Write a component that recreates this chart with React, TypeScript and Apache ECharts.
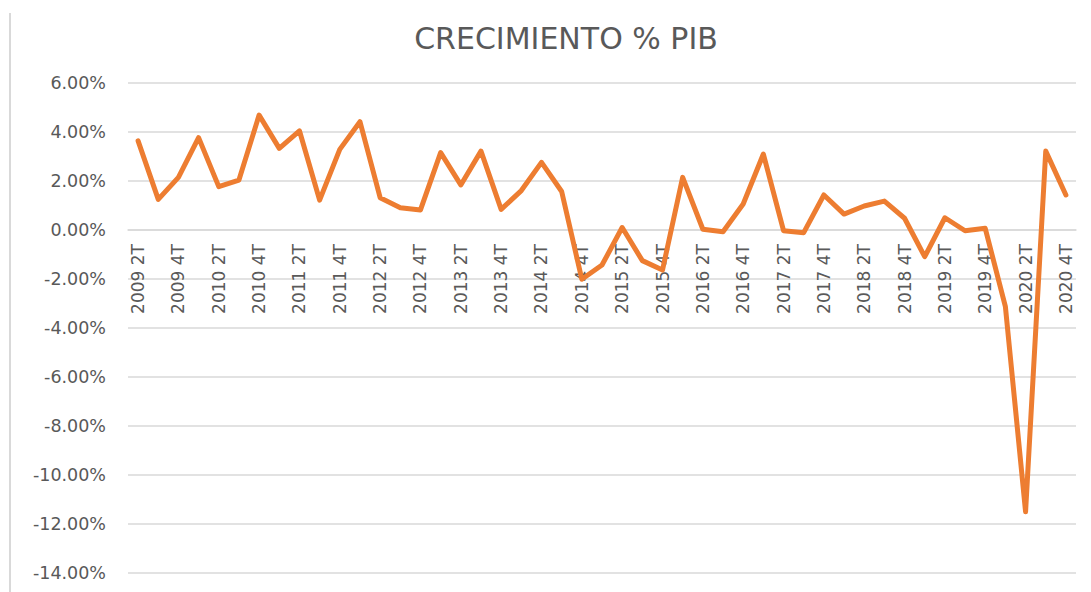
import React, { useEffect, useRef } from "react";
import * as echarts from "echarts";

const quarters: string[] = [
  "2009 2T", "2009 3T", "2009 4T",
  "2010 1T", "2010 2T", "2010 3T", "2010 4T",
  "2011 1T", "2011 2T", "2011 3T", "2011 4T",
  "2012 1T", "2012 2T", "2012 3T", "2012 4T",
  "2013 1T", "2013 2T", "2013 3T", "2013 4T",
  "2014 1T", "2014 2T", "2014 3T", "2014 4T",
  "2015 1T", "2015 2T", "2015 3T", "2015 4T",
  "2016 1T", "2016 2T", "2016 3T", "2016 4T",
  "2017 1T", "2017 2T", "2017 3T", "2017 4T",
  "2018 1T", "2018 2T", "2018 3T", "2018 4T",
  "2019 1T", "2019 2T", "2019 3T", "2019 4T",
  "2020 1T", "2020 2T", "2020 3T", "2020 4T",
];

const growth: number[] = [
  3.64, 1.25, 2.15,
  3.77, 1.77, 2.04, 4.69,
  3.33, 4.05, 1.22, 3.29,
  4.42, 1.32, 0.91, 0.82,
  3.16, 1.84, 3.22, 0.84,
  1.61, 2.76, 1.57, -2.01,
  -1.43, 0.1, -1.25, -1.63,
  2.15, 0.03, -0.07, 1.06,
  3.1, -0.03, -0.11, 1.43,
  0.65, 0.98, 1.18, 0.48,
  -1.09, 0.5, -0.03, 0.07,
  -3.13, -11.5, 3.22, 1.43,
];

const titleText = "CRECIMIENTO % PIB";
const yMin = -14;
const yMax = 6;
const yStep = 2;

export default function App() {
  const ref = useRef<HTMLDivElement>(null);
  useEffect(() => {
    document.body.style.margin = "0";
    if (!ref.current) return;
    const chart = echarts.init(ref.current, undefined, { renderer: "svg" });
    const font = "DejaVu Sans";
    const gridTop = 83;
    const gridBottom = 19;
    const plotH = 592 - gridTop - gridBottom;
    // distance from the bottom of the plot up to the zero line
    const zeroOffset = (plotH * (0 - yMin)) / (yMax - yMin);
    chart.setOption({
      animation: false,
      backgroundColor: "#ffffff",
      title: {
        text: titleText,
        left: 561,
        textAlign: "center",
        top: 18,
        textStyle: { fontFamily: font, fontSize: 30, fontWeight: "normal", color: "#595959" },
      },
      graphic: [
        {
          type: "line",
          shape: { x1: 10, y1: 13, x2: 10, y2: 592 },
          style: { stroke: "#d9d9d9", lineWidth: 2 },
        },
      ],
      grid: {
        left: 128,
        right: 15,
        top: gridTop,
        bottom: gridBottom,
        containLabel: false,
        outerBoundsMode: "none",
      },
      xAxis: {
        type: "category",
        data: quarters,
        boundaryGap: true,
        position: "bottom",
        offset: -zeroOffset,
        axisLine: { onZero: false, lineStyle: { color: "#d9d9d9", width: 1.5 } },
        axisTick: { show: false },
        axisLabel: {
          interval: 1,
          rotate: 90,
          margin: 14,
          fontFamily: font,
          fontSize: 17,
          color: "#595959",
        },
      },
      yAxis: {
        type: "value",
        min: yMin,
        max: yMax,
        interval: yStep,
        axisLine: { show: false },
        axisTick: { show: false },
        splitLine: { lineStyle: { color: "#d9d9d9", width: 1.5 } },
        axisLabel: {
          margin: 22,
          fontFamily: font,
          fontSize: 17.5,
          color: "#595959",
          formatter: (v: number) => v.toFixed(2) + "%",
        },
      },
      series: [
        {
          type: "line",
          data: growth,
          showSymbol: false,
          symbol: "none",
          lineStyle: { color: "#ED7D31", width: 5, join: "round", cap: "round" },
          itemStyle: { color: "#ED7D31" },
        },
      ],
    });
    return () => chart.dispose();
  }, []);
  return <div ref={ref} style={{ width: 1091, height: 592 }} />;
}
